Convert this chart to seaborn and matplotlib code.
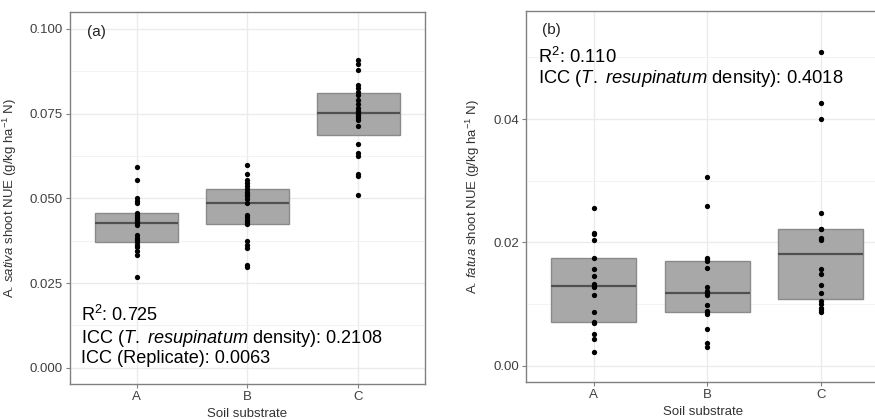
import numpy as np
import pandas as pd
import matplotlib
matplotlib.use('Agg')
import matplotlib.pyplot as plt
from matplotlib.ticker import MultipleLocator
import seaborn as sns

# 全局设置
sns.set_style('white')
plt.rcParams['font.family'] = ['Liberation Sans', 'DejaVu Sans']
plt.rcParams['mathtext.fontset'] = 'custom'
plt.rcParams['mathtext.rm'] = 'Liberation Sans'
plt.rcParams['mathtext.it'] = 'Liberation Sans:italic'
plt.rcParams['mathtext.bf'] = 'Liberation Sans:bold'

substrates = ['A', 'B', 'C']

# (a) A. sativa shoot NUE
sativa_A = [0.0267, 0.0333, 0.0345, 0.0355, 0.0362, 0.0370, 0.0377, 0.0384, 0.0391,
            0.0420, 0.0427, 0.0433, 0.0440, 0.0446, 0.0452, 0.0456,
            0.0485, 0.0492, 0.0500, 0.0554, 0.0593]
sativa_B = [0.0298, 0.0303, 0.0352, 0.0362, 0.0374, 0.0423, 0.0430, 0.0437, 0.0444, 0.0451,
            0.0485, 0.0498, 0.0506, 0.0513, 0.0520, 0.0527,
            0.0536, 0.0545, 0.0553, 0.0573, 0.0597]
sativa_C = [0.0509, 0.0565, 0.0571, 0.0624, 0.0634, 0.0659, 0.0714, 0.0730, 0.0737, 0.0744,
            0.0748, 0.0751, 0.0758, 0.0768, 0.0778, 0.0790, 0.0805, 0.0815,
            0.0826, 0.0834, 0.0879, 0.0897, 0.0907]

# (b) A. fatua shoot NUE
fatua_A = [0.00228, 0.00434, 0.00520, 0.00700, 0.00712, 0.00867, 0.01148, 0.01278, 0.01299,
           0.01321, 0.01451, 0.01570, 0.01743, 0.02040, 0.02130, 0.02150, 0.02565]
fatua_B = [0.00309, 0.00364, 0.00596, 0.00830, 0.00867, 0.00888, 0.00985, 0.01148, 0.01185,
           0.01213, 0.01283, 0.01581, 0.01700, 0.01730, 0.01743, 0.02598, 0.03059]
fatua_C = [0.00877, 0.00904, 0.00942, 0.00997, 0.01050, 0.01175, 0.01310, 0.01484, 0.01570,
           0.02041, 0.02050, 0.02078, 0.02210, 0.02214, 0.02474, 0.04005, 0.04260, 0.05088]

stats_a = ['R$^2$: 0.725', r'ICC ($\it{T.\ resupinatum}$ density): 0.2108', 'ICC (Replicate): 0.0063']
stats_b = ['R$^2$: 0.110', r'ICC ($\it{T.\ resupinatum}$ density): 0.4018']


def long_df(groups):
    rows = []
    for name, vals in zip(substrates, groups):
        for v in vals:
            rows.append({'substrate': name, 'nue': v})
    return pd.DataFrame(rows)


df_a = long_df([sativa_A, sativa_B, sativa_C])
df_b = long_df([fatua_A, fatua_B, fatua_C])

fig = plt.figure(figsize=(8.75, 4.19), dpi=100)
ax1 = fig.add_axes([0.080, 0.0835, 0.4057, 0.888])
ax2 = fig.add_axes([0.6008, 0.0876, 0.415, 0.887])


def draw_panel(ax, df, ylim, major, minor, ylabel):
    sns.boxplot(data=df, x='substrate', y='nue', order=substrates, ax=ax,
                whis=0, showfliers=False, showcaps=False, width=0.75,
                color='#a8a8a8', linecolor='#8a8a8a', linewidth=1.0, saturation=1,
                medianprops=dict(color='#505050', linewidth=1.6))
    sns.stripplot(data=df, x='substrate', y='nue', order=substrates, ax=ax,
                  jitter=False, color='black', size=3.8, zorder=3)
    ax.set_xlim(-0.6, 2.6)
    ax.set_ylim(*ylim)
    ax.yaxis.set_major_locator(MultipleLocator(major))
    ax.yaxis.set_minor_locator(MultipleLocator(minor))
    ax.set_axisbelow(True)
    ax.grid(which='major', color='#ebebeb', linewidth=1.0)
    ax.grid(which='minor', axis='y', color='#f3f3f3', linewidth=0.7)
    ax.tick_params(which='major', length=3, width=0.8, color='#808080',
                   labelsize=9.5, labelcolor='#404040', pad=2, left=True, bottom=True)
    ax.tick_params(which='minor', length=0)
    for sp in ax.spines.values():
        sp.set_color('#808080')
        sp.set_linewidth(1.0)
    ax.set_xlabel('Soil substrate', fontsize=9.5, color='#333333')
    ax.set_ylabel(ylabel, fontsize=9.5, color='#333333')


draw_panel(ax1, df_a, (-0.0048, 0.1050), 0.025, 0.0125,
           r'A. $\it{sativa}$ shoot NUE (g/kg ha$^{-1}$ N)')
ax1.yaxis.set_major_formatter(plt.FormatStrFormatter('%.3f'))
draw_panel(ax2, df_b, (-0.0027, 0.0576), 0.02, 0.01,
           r'A. $\it{fatua}$ shoot NUE (g/kg ha$^{-1}$ N)')
ax2.yaxis.set_major_formatter(plt.FormatStrFormatter('%.2f'))

ax1.yaxis.set_label_coords(-0.145, 0.5)
ax2.yaxis.set_label_coords(-0.121, 0.5)
ax1.xaxis.set_label_coords(0.5, -0.064)
ax2.xaxis.set_label_coords(0.5 * 355 / 363, -0.064)

# 面板标签和统计量
ax1.text(0.047, 0.946, '(a)', transform=ax1.transAxes, fontsize=11, color='#222222', va='center')
for txt, yy in zip(stats_a, [0.185, 0.123, 0.069]):
    ax1.text(0.031, yy, txt, transform=ax1.transAxes, fontsize=13.1, color='black', va='center')

ax2.text(0.044, 0.948, '(b)', transform=ax2.transAxes, fontsize=11, color='#222222', va='center')
for txt, yy in zip(stats_b, [0.876, 0.818]):
    ax2.text(0.033, yy, txt, transform=ax2.transAxes, fontsize=13.2, color='black', va='center')

fig.savefig('out.png', dpi=100)
